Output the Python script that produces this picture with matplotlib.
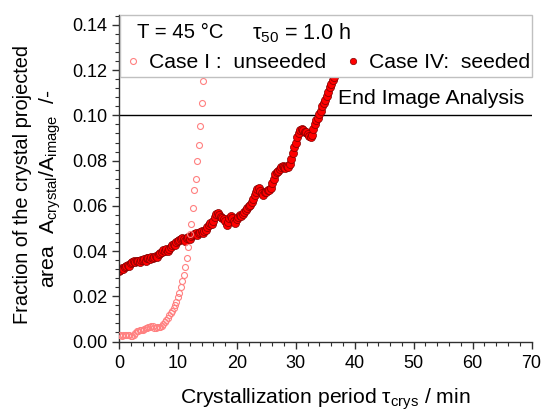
import numpy as np
import matplotlib
matplotlib.use("Agg")
import matplotlib.pyplot as plt
from matplotlib.patches import Rectangle

plt.rcParams['font.family'] = ['Liberation Sans', 'DejaVu Sans']
plt.rcParams['mathtext.fontset'] = 'custom'
plt.rcParams['mathtext.rm'] = 'Liberation Sans'

# Case I: unseeded (sampled every 0.25 min)
t_unseeded = np.arange(0, 14.5, 0.25)
a_unseeded = [
    0.0027, 0.0028, 0.0026, 0.0028,
    0.0027, 0.0029, 0.0027, 0.0028,
    0.0026, 0.0025, 0.0030, 0.0036,
    0.0045, 0.0048, 0.0050, 0.0052,
    0.0053, 0.0055, 0.0058, 0.0060,
    0.0062, 0.0064, 0.0067, 0.0070,
    0.0060, 0.0058, 0.0062, 0.0064,
    0.0066, 0.0070, 0.0076, 0.0085,
    0.0095, 0.0105, 0.0115, 0.0125,
    0.0135, 0.0148, 0.0160, 0.0175,
    0.0195, 0.0215, 0.0240, 0.0268,
    0.0295, 0.0330, 0.0370, 0.0420,
    0.0475, 0.0520, 0.0590, 0.0670,
    0.0720, 0.0800, 0.0870, 0.0955,
    0.1055, 0.1150,
]

# Case IV: seeded (sampled every 0.25 min)
t_seeded = np.arange(0, 37.5, 0.25)
a_seeded = [
    0.0310, 0.0318, 0.0325, 0.0322,
    0.0330, 0.0335, 0.0340, 0.0336,
    0.0345, 0.0352, 0.0356, 0.0350,
    0.0355, 0.0358, 0.0352, 0.0360,
    0.0362, 0.0365, 0.0358, 0.0368,
    0.0370, 0.0364, 0.0372, 0.0368,
    0.0375, 0.0380, 0.0372, 0.0385,
    0.0390, 0.0398, 0.0405, 0.0400,
    0.0408, 0.0402, 0.0410, 0.0418,
    0.0425, 0.0432, 0.0428, 0.0438,
    0.0445, 0.0450, 0.0455, 0.0458,
    0.0452, 0.0445, 0.0458, 0.0462,
    0.0455, 0.0465, 0.0470, 0.0475,
    0.0478, 0.0472, 0.0480, 0.0485,
    0.0488, 0.0482, 0.0490, 0.0495,
    0.0505, 0.0515, 0.0525, 0.0520,
    0.0535, 0.0550, 0.0562, 0.0568,
    0.0558, 0.0550, 0.0545, 0.0540,
    0.0532, 0.0515, 0.0530, 0.0545,
    0.0555, 0.0548, 0.0532, 0.0525,
    0.0540, 0.0552, 0.0560, 0.0555,
    0.0565, 0.0572, 0.0580, 0.0590,
    0.0598, 0.0605, 0.0615, 0.0630,
    0.0650, 0.0662, 0.0675, 0.0678,
    0.0665, 0.0655, 0.0650, 0.0660,
    0.0662, 0.0670, 0.0668, 0.0680,
    0.0700, 0.0720, 0.0740, 0.0750,
    0.0755, 0.0762, 0.0770, 0.0775,
    0.0770, 0.0768, 0.0775, 0.0772,
    0.0785, 0.0805, 0.0835, 0.0860,
    0.0880, 0.0905, 0.0920, 0.0935,
    0.0942, 0.0935, 0.0928, 0.0925,
    0.0918, 0.0910, 0.0905, 0.0912,
    0.0940, 0.0960, 0.0980, 0.0990,
    0.1005, 0.1020, 0.1040, 0.1055,
    0.1070, 0.1085, 0.1105, 0.1125,
    0.1140, 0.1155, 0.1170, 0.1190,
    0.1210, 0.1230,
]

end_analysis = 0.10

fig = plt.figure(figsize=(5.44, 4.11), dpi=100)
ax = fig.add_axes([119 / 544, 1 - 341.5 / 411, 412.5 / 544, 326.5 / 411])

h_seed, = ax.plot(t_seeded, a_seeded, 'o', ms=5.8, mfc='#ff0000', mec='#800000',
                  mew=0.5, zorder=2)
h_unseed, = ax.plot(t_unseeded, a_unseeded, 'o', ms=4.3, mfc='none', mec='#ff8080',
                    mew=0.8, zorder=3)

ax.axhline(end_analysis, color='black', lw=1, zorder=1)
ax.text(37.2, 0.1031, 'End Image Analysis', fontsize=15.3, va='bottom', ha='left')

ax.set_xlim(0, 70)
ax.set_ylim(0, 0.1444)
ax.set_xticks(np.arange(0, 71, 10))
ax.set_xticks(np.arange(0, 71, 2), minor=True)
ax.set_yticks(np.arange(0, 0.141, 0.02))
ax.set_yticks(np.arange(0, 0.1441, 0.004), minor=True)
ax.yaxis.set_major_formatter(plt.FormatStrFormatter('%.2f'))

for s in ['top', 'right']:
    ax.spines[s].set_visible(False)
for s in ['left', 'bottom']:
    ax.spines[s].set_color('#303030')
    ax.spines[s].set_linewidth(1)
ax.spines['bottom'].set_zorder(0.5)

ax.tick_params(which='major', direction='out', length=5, width=1, labelsize=13,
               color='#303030')
ax.tick_params(which='minor', direction='out', length=3, width=0.8, color='#303030')
ax.tick_params(axis='x', pad=5)
ax.tick_params(axis='y', pad=3.5)

# legend frame
frame = Rectangle((0.0024, 0.81), 0.9976, 0.19, transform=ax.transAxes,
                  facecolor='white', edgecolor='#c0c0c0', lw=1, zorder=4,
                  clip_on=False)
ax.add_patch(frame)
ax.text((137 - 119) / 412.5, 0.945, 'T = 45 °C', transform=ax.transAxes,
        fontsize=14.6, va='center', ha='left', zorder=6)
ax.text((252 - 119) / 412.5, 0.945, r'τ$\mathregular{_{50}}$ = 1.0 h',
        transform=ax.transAxes, fontsize=15.6, va='center', ha='left', zorder=6)

leg_kw = dict(frameon=False, fontsize=15.2, handlelength=0.6, handletextpad=0.45,
              borderpad=0, borderaxespad=0, loc='center left', markerscale=1.0)
leg1 = ax.legend([h_unseed], ['Case I :  unseeded'],
                 bbox_to_anchor=((132.7 - 6 - 119) / 412.5, 0.853), **leg_kw)
leg1.set_zorder(6)
ax.add_artist(leg1)
leg2 = ax.legend([h_seed], ['Case IV:  seeded'],
                 bbox_to_anchor=((352.7 - 6 - 119) / 412.5, 0.853), **leg_kw)
leg2.set_zorder(6)
leg2.legend_handles[0].set_markersize(4.6)

# axis labels
fig.text(28.3 / 544, 1 - 184 / 411, 'Fraction of the crystal projected',
         rotation=90, rotation_mode='anchor', ha='center', va='baseline', fontsize=14.4)
fig.text(55 / 544, 1 - 189 / 411,
         r'area  A$\mathregular{_{crystal}}$/A$\mathregular{_{image}}$  /-',
         rotation=90, rotation_mode='anchor', ha='center', va='baseline', fontsize=15.2)
fig.text(180 / 544, 1 - 404 / 411, r'Crystallization period τ$\mathregular{_{crys}}$ / min',
         ha='left', va='baseline', fontsize=15.2)

fig.savefig('out.png', dpi=100)
